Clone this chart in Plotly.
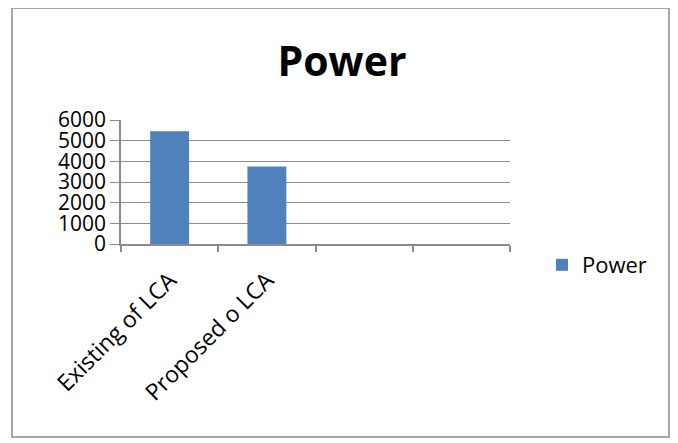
import plotly.graph_objects as go

categories = ["Existing of LCA", "Proposed o LCA", " ", "  "]
power = [5450, 3750, None, None]
y_ticks = [0, 1000, 2000, 3000, 4000, 5000, 6000]

OFF = 8  # page body margin
W, H = 678 - OFF, 443 - OFF
L, R, T, B = 121 - OFF, 510 - OFF, 120 - OFF, 244 - OFF
pw, ph = R - L, B - T

def px_x(x):
    return (x - OFF - L) / pw

def px_y(y):
    return (B - (y - OFF)) / ph

fig = go.Figure()
fig.add_trace(go.Bar(
    x=categories, y=power, name="Power",
    marker=dict(color="#4F81BD", line=dict(width=0)),
    width=0.4, showlegend=True,
))

fig.update_layout(
    width=W, height=H,
    margin=dict(l=L, r=W - R, t=T, b=H - B, autoexpand=False),
    paper_bgcolor="white", plot_bgcolor="white",
    font=dict(family="Open Sans", color="black"),
    title=dict(text="<b>Power</b>", x=(342 - OFF) / W, xref="container", xanchor="center",
               y=1 - (62 - OFF) / H, yref="container", yanchor="middle",
               font=dict(size=41, family="Open Sans", color="black")),
    showlegend=True,
    legend=dict(x=px_x(542), y=px_y(265), xanchor="left", yanchor="middle",
                font=dict(size=22), bgcolor="rgba(0,0,0,0)", itemwidth=30),
    bargap=0.6,
)
fig.update_xaxes(
    type="category", categoryorder="array", categoryarray=categories,
    showline=True, linecolor="#8c8c8c", linewidth=1.5,
    ticks="outside", tickson="boundaries", ticklen=6, tickcolor="#8c8c8c",
    tickwidth=1.5, tickangle=-45, tickfont=dict(size=23), showgrid=False,
    ticklabelstandoff=12,
)
fig.update_yaxes(
    range=[0, 6000], tickvals=y_ticks, ticktext=[str(v) for v in y_ticks],
    showgrid=True, gridcolor="#8c8c8c", gridwidth=1.2,
    showline=True, linecolor="#8c8c8c", linewidth=1.5,
    ticks="outside", ticklen=9, tickcolor="#8c8c8c", tickwidth=1.2,
    tickfont=dict(size=21), zeroline=False,
)
fig.add_shape(type="rect", xref="paper", yref="paper",
              x0=px_x(12), x1=px_x(669), y0=px_y(437), y1=px_y(8),
              line=dict(color="#8c8c8c", width=1.5), fillcolor="rgba(0,0,0,0)",
              layer="below")
fig.write_html("out.html")
